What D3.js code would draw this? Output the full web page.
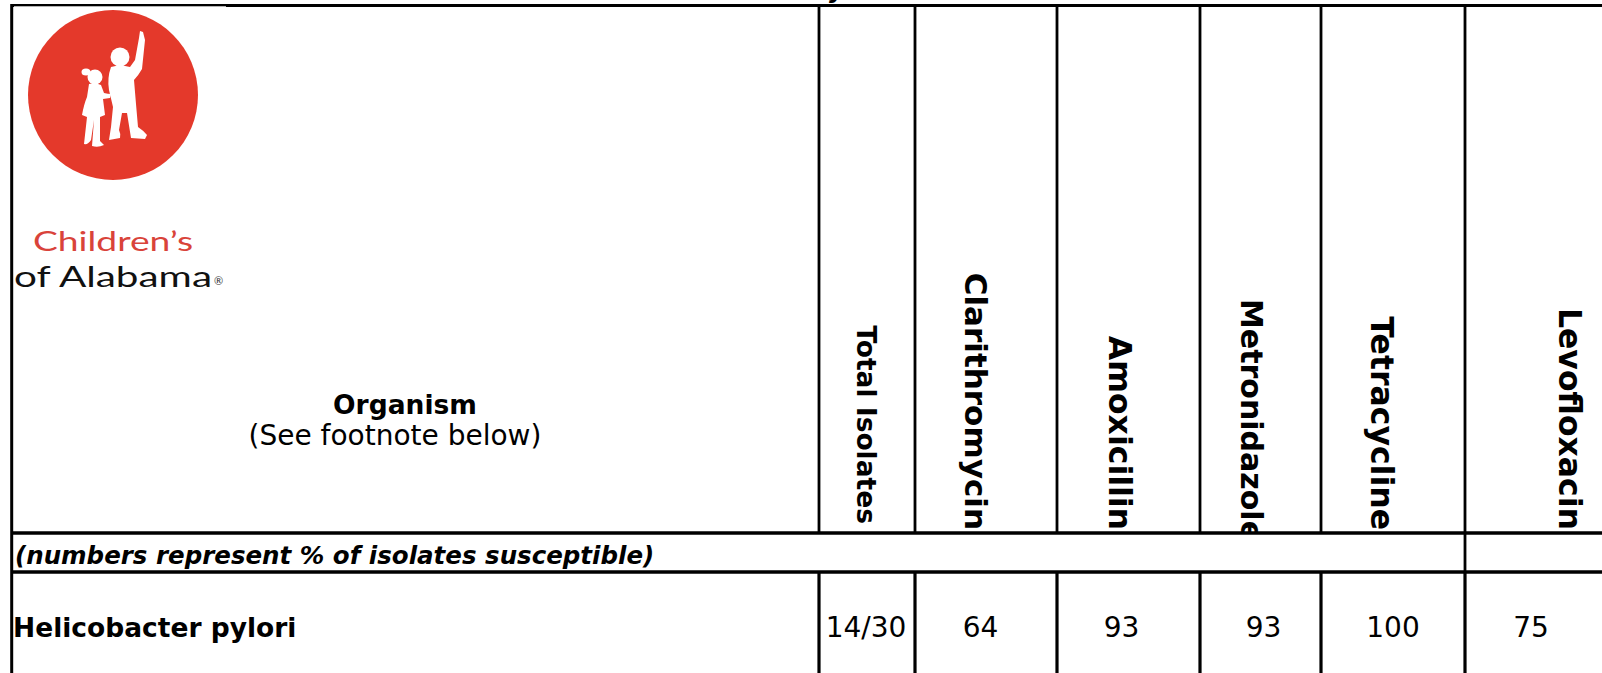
<!DOCTYPE html>
<html>
<head>
<meta charset="utf-8">
<script src="https://cdn.jsdelivr.net/npm/d3@7"></script>
<style>
  body { margin: 0; background: #fff; }
  svg { display: block; }
  .hdr { font-family: "DejaVu Sans", Verdana, sans-serif; font-weight: bold; font-size: 28px; fill: #000; }
  .cell { font-family: "DejaVu Sans", Verdana, sans-serif; font-size: 28px; fill: #000; }
</style>
</head>
<body>
<div class="js-table"></div>
<script>
// table contents
var organisms = ['Helicobacter pylori'];
var columns = ['Total Isolates', 'Clarithromycin', 'Amoxicillin', 'Metronidazole', 'Tetracycline', 'Levofloxacin'];
var totalIsolates = ['14/30'];
var susceptible = [[64, 93, 93, 100, 75]];
var organismHeader = 'Organism';
var organismNote = '(See footnote below)';
var legendNote = '(numbers represent % of isolates susceptible)';

var width = 1602;
var height = 673;

// layout of the grid
var leftEdge = 11.7;
var colWidths = [96, 142, 143, 121, 144, 226];
var firstColRight = 819;
var topY = 5.5;
var headerBottom = 533;
var noteBottom = 572;
var rowBottom = 700;

var colEdges = [firstColRight].concat(Array.from(d3.cumsum(colWidths), function(d) { return firstColRight + d; }));

var x = d3.scaleOrdinal()
  .domain(columns)
  .range(colEdges.slice(0, columns.length));

var colWidth = d3.scaleOrdinal()
  .domain(columns)
  .range(colWidths);

// small nudges so the rotated headers and numbers sit where the original put them
var headerNudge = [-10, -21, -20, -20, -22, -19];
var headerSize = [26.5, 31, 31.5, 30, 31.5, 31.5];
var headerEnd = [524, 530, 530, 541, 530, 530];
var valueNudge = [-1, -5.5, -7, 3, 0, -47];

var svg = d3.select('.js-table').append('svg')
  .attr('width', width)
  .attr('height', height);

svg.append('rect')
  .attr('width', width)
  .attr('height', height)
  .attr('fill', '#fff');

// bottom of a title line above the table, cut off by the page edge
svg.append('text')
  .attr('x', 829)
  .attr('y', -2)
  .style('font-family', '"DejaVu Sans", sans-serif')
  .style('font-weight', 'bold')
  .style('font-style', 'italic')
  .style('font-size', '24px')
  .text('y');

/**
 * Grid lines
 */
var lines = svg.append('g').attr('stroke', '#000');

lines.append('line')
  .attr('x1', leftEdge).attr('x2', width)
  .attr('y1', topY).attr('y2', topY)
  .attr('stroke-width', 3);

lines.append('line')
  .attr('x1', leftEdge).attr('x2', leftEdge)
  .attr('y1', topY - 1.5).attr('y2', height)
  .attr('stroke-width', 3);

[headerBottom, noteBottom].forEach(function(y) {
  lines.append('line')
    .attr('x1', leftEdge).attr('x2', width)
    .attr('y1', y).attr('y2', y)
    .attr('stroke-width', 3.3);
});

// header column separators
lines.selectAll('.hdr-sep')
  .data(columns)
  .enter().append('line')
  .attr('x1', function(d) { return x(d); })
  .attr('x2', function(d) { return x(d); })
  .attr('y1', topY)
  .attr('y2', headerBottom)
  .attr('stroke-width', 2.8);

// the note row is only split before the last column
lines.append('line')
  .attr('x1', x(columns[columns.length - 1]))
  .attr('x2', x(columns[columns.length - 1]))
  .attr('y1', headerBottom)
  .attr('y2', noteBottom)
  .attr('stroke-width', 2.8);

// data row separators
lines.selectAll('.row-sep')
  .data(columns)
  .enter().append('line')
  .attr('x1', function(d) { return x(d); })
  .attr('x2', function(d) { return x(d); })
  .attr('y1', noteBottom)
  .attr('y2', rowBottom)
  .attr('stroke-width', 3.2);

/**
 * Logo
 */
var logo = svg.append('g');

logo.append('rect')
  .attr('x', 14)
  .attr('y', 6.3)
  .attr('width', 212)
  .attr('height', 295)
  .attr('fill', '#fff');

logo.append('circle')
  .attr('cx', 113)
  .attr('cy', 95)
  .attr('r', 85)
  .attr('fill', '#e4392b');

// girl
logo.append('circle').attr('cx', 95).attr('cy', 77).attr('r', 7.5).attr('fill', '#fff');
logo.append('ellipse').attr('cx', 86).attr('cy', 72).attr('rx', 4.5).attr('ry', 3.5).attr('fill', '#fff');
logo.append('path')
  .attr('fill', '#fff')
  .attr('d', 'M89,84 Q95,82 101,85 L104,93 Q108,94 111,94 L110,98 L103,99 L105,115 L100,117 L100,141 L104,145 Q98,148 92,146 L94,120 L91,140 Q88,145 84,144 L87,117 L82,115 Q84,104 87,97 Z');

// boy
logo.append('circle').attr('cx', 120).attr('cy', 57).attr('r', 9.5).attr('fill', '#fff');
logo.append('path')
  .attr('fill', '#fff')
  .attr('d', 'M111,67 Q120,64 130,67 L135,60 L139,38 L140,31 L143,32 L145,40 L142,69 Q138,76 134,80 L136,104 L138,127 Q144,131 147,135 L145,139 L131,138 L127,113 L122,113 L119,130 Q121,134 120,138 L109,140 L111,127 L113,107 L109,90 Q107,78 111,67 Z');

logo.append('text')
  .attr('x', 33)
  .attr('y', 251)
  .attr('textLength', 160)
  .attr('lengthAdjust', 'spacingAndGlyphs')
  .style('font-family', 'Lato, sans-serif')
  .style('font-size', '27px')
  .style('fill', '#d9433a')
  .text('Children\u2019s');

logo.append('text')
  .attr('x', 14)
  .attr('y', 287)
  .attr('textLength', 198)
  .attr('lengthAdjust', 'spacingAndGlyphs')
  .style('font-family', 'Lato, sans-serif')
  .style('font-size', '28px')
  .style('fill', '#111')
  .text('of Alabama');

logo.append('text')
  .attr('x', 214)
  .attr('y', 285)
  .style('font-family', 'Lato, sans-serif')
  .style('font-size', '11px')
  .style('fill', '#333')
  .text('\u00ae');

/**
 * Header texts
 */
svg.append('text')
  .attr('class', 'hdr')
  .attr('x', 405)
  .attr('y', 414)
  .attr('text-anchor', 'middle')
  .style('font-size', '26.5px')
  .text(organismHeader);

svg.append('text')
  .attr('class', 'cell')
  .attr('x', 395)
  .attr('y', 445)
  .attr('text-anchor', 'middle')
  .style('font-size', '28px')
  .text(organismNote);

svg.append('clipPath')
  .attr('id', 'hdr-clip')
  .append('rect')
  .attr('x', 0).attr('y', topY)
  .attr('width', width).attr('height', headerBottom - topY);

svg.append('g')
  .attr('clip-path', 'url(#hdr-clip)')
  .selectAll('text')
  .data(columns)
  .enter().append('text')
  .attr('class', 'hdr')
  .attr('text-anchor', 'end')
  .style('font-size', function(d, i) { return headerSize[i] + 'px'; })
  .attr('transform', function(d, i) {
    var cx = x(d) + colWidth(d) / 2 + headerNudge[i];
    return 'translate(' + cx + ',' + headerEnd[i] + ') rotate(90)';
  })
  .text(function(d) { return d; });

/**
 * Note row and data row
 */
svg.append('text')
  .attr('class', 'hdr')
  .attr('x', 15)
  .attr('y', 564)
  .style('font-style', 'italic')
  .style('font-size', '24.5px')
  .text(legendNote);

var rows = svg.selectAll('.row')
  .data(organisms)
  .enter().append('g')
  .attr('class', 'row');

rows.append('text')
  .attr('class', 'hdr')
  .attr('x', 13)
  .attr('y', 637)
  .style('font-size', '26.5px')
  .text(function(d) { return d; });

rows.selectAll('.val')
  .data(function(d, r) { return [totalIsolates[r]].concat(susceptible[r]); })
  .enter().append('text')
  .attr('class', 'cell')
  .attr('text-anchor', 'middle')
  .attr('x', function(d, i) { return x(columns[i]) + colWidth(columns[i]) / 2 + valueNudge[i]; })
  .attr('y', 637)
  .text(function(d) { return d; });
</script>
</body>
</html>
